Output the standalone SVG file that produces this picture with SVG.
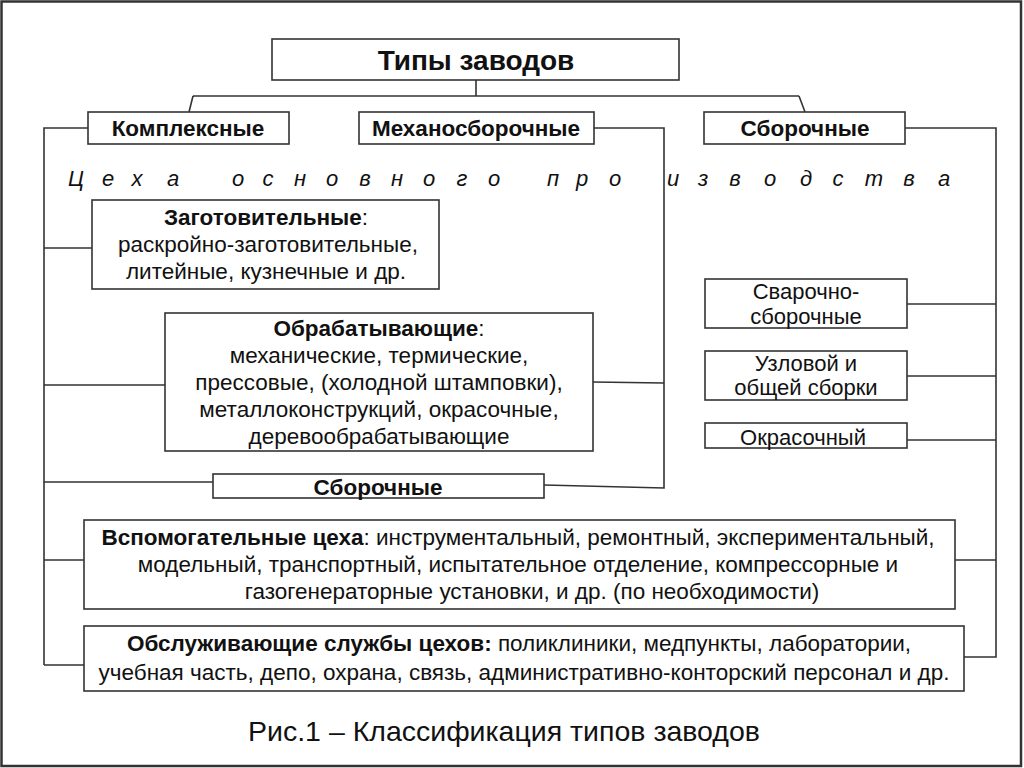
<svg xmlns="http://www.w3.org/2000/svg" width="1024" height="768" viewBox="0 0 1024 768">
<style>
.box{fill:#fff;stroke:#333;stroke-width:1.6}
.ln{fill:none;stroke:#333;stroke-width:1.6}
text{font-family:"Liberation Sans",Arial,sans-serif;fill:#111}
.h{font-weight:bold;font-size:22.5px;text-anchor:middle}
.t{font-size:22.5px;text-anchor:middle}
.r{font-size:22px;text-anchor:middle}
.b{font-weight:bold}
</style>
<rect x="0" y="0" width="1024" height="768" fill="#fff"/>
<rect x="1.5" y="1.5" width="1019.5" height="764.5" fill="none" stroke="#333" stroke-width="2.5"/>
<g id="connectors">
<path class="ln" d="M476,80 V96 M193,96 H799 M193,96 L189,112 M799,96 L805,112"/>
<path class="ln" d="M88,128 H44 V665 M44,248 H92 M44,385 H165 M44,482 H213 M44,560 H84 M44,665 H84"/>
<path class="ln" d="M594,128 H664 V488 L544,485 M593,382 L664,383"/>
<path class="ln" d="M905,128 H996 V657 H964 M907,304 H996 M907,376 H996 M907,440 H996 M955,560 H996"/>
</g>
<g id="title"><rect class="box" x="272" y="39" width="407" height="41"/><text x="476" y="70" font-size="28" font-weight="bold" text-anchor="middle">Типы заводов</text></g>
<g id="kompleksnye"><rect class="box" x="88" y="112" width="201" height="32"/><text class="h" x="188" y="136">Комплексные</text></g>
<g id="mekhanosborochnye"><rect class="box" x="359" y="112" width="235" height="32"/><text class="h" x="476" y="136">Механосборочные</text></g>
<g id="sborochnye-top"><rect class="box" x="704" y="112" width="201" height="32"/><text class="h" x="805" y="136">Сборочные</text></g>
<g id="tsekha-label"><text font-size="22" font-style="italic" text-anchor="middle" y="186" x="76 108 137 173 205 238 268 300 332 365 397 429 462 494 523 553 582 615 673 703 735 770 806 838 874 909 944">Цеха основного производства</text></g>
<g id="zagotovitelnye"><rect class="box" x="92" y="200" width="347" height="89"/>
<text class="t" x="266" y="225"><tspan class="b">Заготовительные</tspan>:</text>
<text class="t" x="268" y="252">раскройно-заготовительные,</text>
<text class="t" x="266" y="279">литейные, кузнечные и др.</text></g>
<g id="obrabatyvayushchie"><rect class="box" x="165" y="313" width="428" height="138"/>
<text class="t" x="379" y="336"><tspan class="b">Обрабатывающие</tspan>:</text>
<text class="t" x="379" y="363">механические, термические,</text>
<text class="t" x="379" y="390">прессовые, (холодной штамповки),</text>
<text class="t" x="379" y="417">металлоконструкций, окрасочные,</text>
<text class="t" x="379" y="444">деревообрабатывающие</text></g>
<g id="sborochnye-left"><rect class="box" x="213" y="474" width="331" height="24"/><text class="h" x="378" y="495">Сборочные</text></g>
<g id="svarochno"><rect class="box" x="705" y="279" width="202" height="49"/>
<text class="r" x="806" y="299">Сварочно-</text><text class="r" x="806" y="324">сборочные</text></g>
<g id="uzlovoy"><rect class="box" x="705" y="351" width="202" height="49"/>
<text class="r" x="806" y="371">Узловой и</text><text class="r" x="806" y="395">общей сборки</text></g>
<g id="okrasochny"><rect class="box" x="705" y="423" width="202" height="25"/>
<text class="r" x="803" y="445">Окрасочный</text></g>
<g id="vspomogatelnye"><rect class="box" x="84" y="520" width="871" height="89"/>
<text class="t" x="518" y="545"><tspan class="b">Вспомогательные цеха</tspan>: инструментальный, ремонтный, экспериментальный,</text>
<text class="t" x="518" y="572">модельный, транспортный, испытательное отделение, компрессорные и</text>
<text class="t" x="532" y="599">газогенераторные установки, и др. (по необходимости)</text></g>
<g id="obsluzhivayushchie"><rect class="box" x="84" y="626" width="880" height="65"/>
<text class="t" x="519" y="651"><tspan class="b">Обслуживающие службы цехов:</tspan> поликлиники, медпункты, лаборатории,</text>
<text class="t" x="524" y="680">учебная часть, депо, охрана, связь, административно-конторский персонал и др.</text></g>
<g id="caption"><text x="504" y="741" font-size="28.5" text-anchor="middle">Рис.1 – Классификация типов заводов</text></g>
</svg>
